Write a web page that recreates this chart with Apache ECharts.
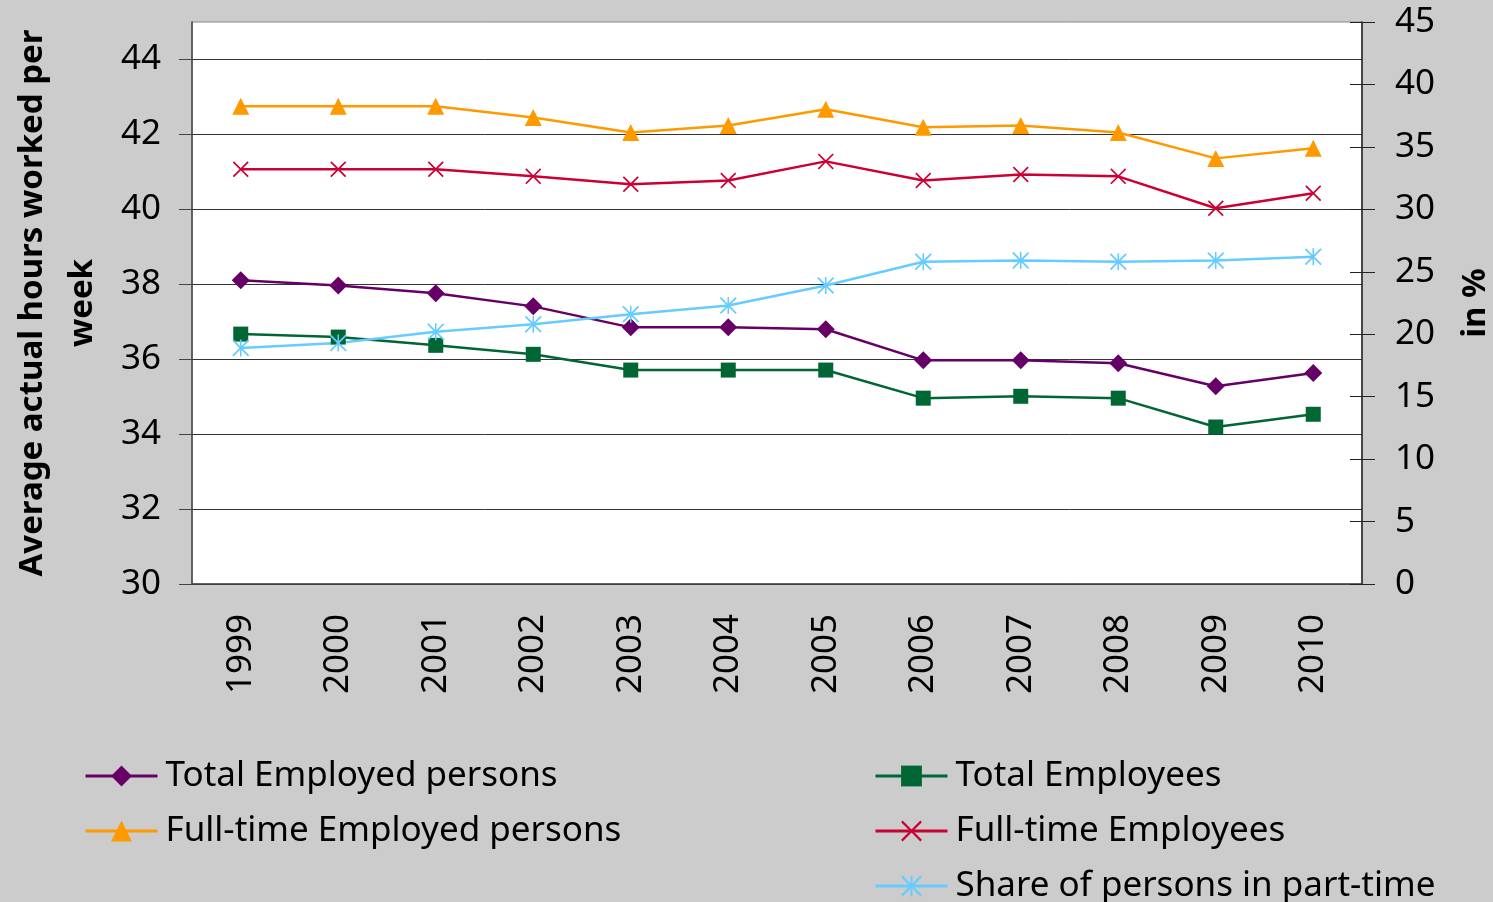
<!DOCTYPE html>
<html>
<head>
<meta charset="utf-8">
<script src="https://cdn.jsdelivr.net/npm/echarts@6/dist/echarts.min.js"></script>
<style>
  html, body { margin: 0; padding: 0; background: #cccccc; }
  #chart { width: 1493px; height: 902px; }
</style>
</head>
<body>
<div id="chart"></div>
<script>
const years = ['1999', '2000', '2001', '2002', '2003', '2004', '2005', '2006', '2007', '2008', '2009', '2010']
const hourTicks = [30, 32, 34, 36, 38, 40, 42, 44]

// hours per week (left axis)
const totalEmployedPersons = [38.11, 37.97, 37.76, 37.41, 36.85, 36.85, 36.8, 35.97, 35.97, 35.89, 35.28, 35.63]
const totalEmployees = [36.67, 36.59, 36.37, 36.13, 35.71, 35.71, 35.71, 34.96, 35.01, 34.96, 34.19, 34.53]
const fullTimeEmployedPersons = [42.75, 42.75, 42.75, 42.45, 42.05, 42.24, 42.67, 42.19, 42.24, 42.05, 41.36, 41.63]
const fullTimeEmployees = [41.07, 41.07, 41.07, 40.88, 40.67, 40.77, 41.28, 40.77, 40.93, 40.88, 40.03, 40.43]
// share in % (right axis)
const partTimeShare = [18.9, 19.3, 20.2, 20.8, 21.6, 22.3, 23.9, 25.8, 25.9, 25.8, 25.9, 26.2]

const crossPath = 'path://M0,1.5L1.5,0L10,8.5L18.5,0L20,1.5L11.5,10L20,18.5L18.5,20L10,11.5L1.5,20L0,18.5L8.5,10Z'
const starPath = 'path://M0,1.5L1.5,0L10,8.5L18.5,0L20,1.5L11.5,10L20,18.5L18.5,20L10,11.5L1.5,20L0,18.5L8.5,10Z M9.1,0L10.9,0L10.9,20L9.1,20Z'

const font = '"Noto Sans", sans-serif'
const chart = echarts.init(document.getElementById('chart'))

function line(name, data, color, symbol, size, yAxisIndex) {
  return {
    name,
    type: 'line',
    data,
    yAxisIndex: yAxisIndex || 0,
    symbol,
    symbolSize: size,
    showAllSymbol: true,
    lineStyle: { color, width: 2.5 },
    itemStyle: { color },
    emphasis: { disabled: true },
    z: 3
  }
}

function legend(left, top, names) {
  return {
    orient: 'vertical',
    left,
    top,
    height: 200,
    itemWidth: 72,
    itemHeight: 26,
    itemGap: 15,
    lineStyle: { width: 3 },
    textStyle: { fontFamily: font, fontSize: 35, color: '#000', lineHeight: 40, padding: [0, 0, 0, 3] },
    data: names
  }
}

const option = {
  backgroundColor: '#cccccc',
  animation: false,
  textStyle: { fontFamily: font },
  grid: {
    left: 192,
    right: 131,
    top: 22,
    bottom: 318,
    containLabel: false,
    outerBoundsMode: 'none',
    show: true,
    backgroundColor: '#ffffff',
    borderColor: '#888888',
    borderWidth: 1
  },
  legend: [
    legend(79, 751, ['Total Employed persons', 'Full-time Employed persons']),
    legend(869, 751, ['Total Employees', 'Full-time Employees']),
    legend(869, 861, ['Share of persons in part-time'])
  ],
  xAxis: {
    type: 'category',
    data: years,
    boundaryGap: true,
    axisLine: { lineStyle: { color: '#444', width: 1.5 } },
    axisTick: { length: 13, lineStyle: { color: '#555' } },
    axisLabel: { rotate: 90, margin: 30, fontSize: 35, color: '#000', fontFamily: font }
  },
  yAxis: [
    {
      type: 'value',
      min: 30,
      max: 45,
      interval: 2,
      name: 'Average actual hours worked per\nweek',
      nameLocation: 'middle',
      nameRotate: 90,
      nameGap: 84,
      nameTextStyle: { fontSize: 33, fontWeight: 'bold', color: '#000', lineHeight: 50, fontFamily: font },
      axisLine: { show: true, lineStyle: { color: '#444', width: 1.5 } },
      axisTick: { show: true, length: 13, customValues: hourTicks, lineStyle: { color: '#444' } },
      axisLabel: { fontSize: 35, color: '#000', margin: 31, customValues: hourTicks, fontFamily: font },
      splitLine: { show: true, lineStyle: { color: '#333', width: 1 } }
    },
    {
      type: 'value',
      min: 0,
      max: 45,
      interval: 5,
      position: 'right',
      name: 'in %',
      nameLocation: 'middle',
      nameRotate: 90,
      nameGap: 97,
      nameTextStyle: { fontSize: 33, fontWeight: 'bold', color: '#000', fontFamily: font },
      axisLine: { show: true, lineStyle: { color: '#222', width: 1.5 } },
      axisTick: { show: true, length: 13, lineStyle: { color: '#222' } },
      axisLabel: { fontSize: 35, color: '#000', margin: 33, fontFamily: font },
      splitLine: { show: false }
    },
    {
      // inner half of the crossing ticks on the right axis
      type: 'value',
      min: 0,
      max: 45,
      interval: 5,
      position: 'right',
      axisLine: { show: false },
      axisTick: { show: true, inside: true, length: 12, lineStyle: { color: '#222' } },
      axisLabel: { show: false },
      splitLine: { show: false }
    }
  ],
  series: [
    line('Total Employed persons', totalEmployedPersons, '#660066', 'diamond', 18),
    line('Total Employees', totalEmployees, '#006633', 'rect', 15),
    line('Full-time Employed persons', fullTimeEmployedPersons, '#ff9900', 'triangle', 17),
    line('Full-time Employees', fullTimeEmployees, '#cc0033', crossPath, 16),
    line('Share of persons in part-time', partTimeShare, '#66ccff', starPath, 17, 1)
  ]
}

chart.setOption(option)
</script>
</body>
</html>
